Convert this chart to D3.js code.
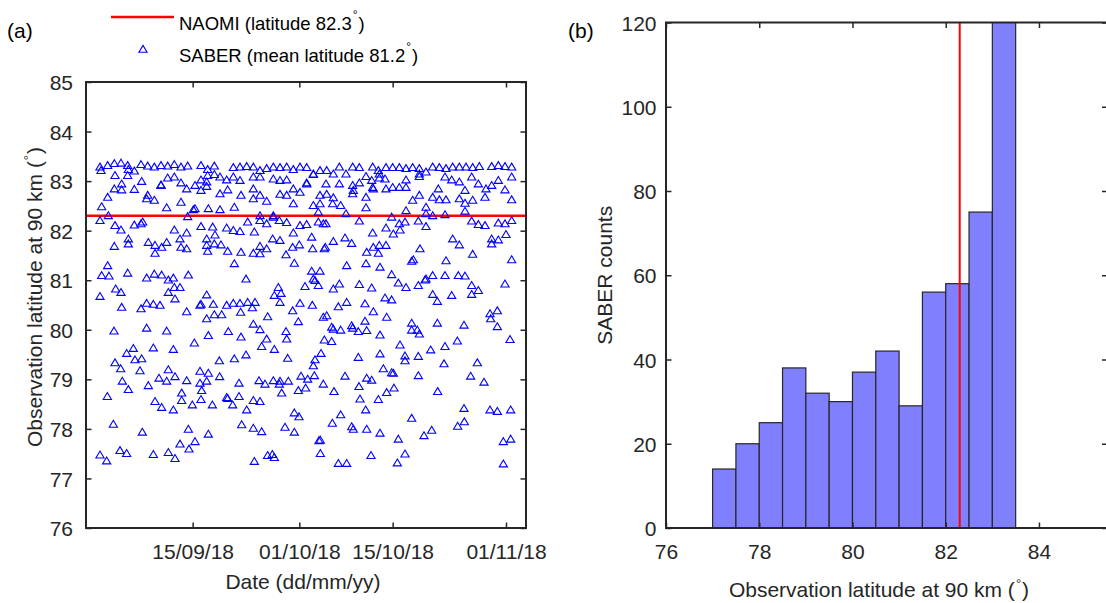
<!DOCTYPE html>
<html><head><meta charset="utf-8">
<script src="https://cdn.jsdelivr.net/npm/d3@7"></script>
<style>
body{margin:0;background:#fff}
text{font-family:"Liberation Sans",Arial,Helvetica,sans-serif}
</style>
</head><body>
<svg id="chart" width="1106" height="603"></svg>
<script>
// ---------------- DATA ----------------
const naomiLat = 82.3;
const legendLabels = ["NAOMI (latitude 82.3", "SABER (mean latitude 81.2"];
const dateStart = "2018-08-30";
const dateEnd = "2018-11-04";
const dateTicks = ["2018-09-15", "2018-10-01", "2018-10-15", "2018-11-01"];
const dateTickLabels = ["15/09/18", "01/10/18", "15/10/18", "01/11/18"];
const latTicksA = [76, 77, 78, 79, 80, 81, 82, 83, 84, 85];
const latTicksB = [76, 78, 80, 82, 84];
const countTicks = [0, 20, 40, 60, 80, 100, 120];
const histEdges = [77, 77.5, 78, 78.5, 79, 79.5, 80, 80.5, 81, 81.5, 82, 82.5, 83, 83.5];
const histCounts = [14, 20, 25, 38, 32, 30, 37, 42, 29, 56, 58, 75, 142];
// SABER observations: [days after 30 Aug 2018, latitude at 90 km]
const saberObs = [
[2.1,83.29],[2.25,83.22],[3.25,83.32],[4.25,83.36],[5.25,83.37],[6.25,83.32],[6.35,83.24],[7.25,83.21],[8.25,83.34],[9.25,83.31],
[10.25,83.29],[11.25,83.32],[12.25,83.31],[13.25,83.34],[14.25,83.29],[15.25,83.31],[17.25,83.32],[18.25,83.24],[19.25,83.31],[22.1,83.28],
[23.1,83.29],[24.1,83.30],[25.1,83.29],[26.1,83.22],[27.1,83.26],[28.1,83.29],[29.1,83.28],[30.1,83.29],[31.1,83.24],[32.1,83.29],
[33.1,83.28],[34.1,83.15],[35.1,83.22],
[4.35,83.12],[5.35,82.95],[6.25,83.12],[8.35,83.00],[11.25,82.93],[12.25,83.07],[13.25,83.09],[14.25,82.97],[16.35,82.92],[17.25,83.03],
[18.1,82.99],[18.25,83.12],[19.25,83.14],[20.1,83.09],[21.1,83.03],[22.1,83.09],[23.1,83.02],[25.1,83.09],[26.1,83.09],[28.1,83.05],
[29.1,83.02],[30.1,83.03],[33.1,82.97],[34.1,83.14],
[4.25,82.85],[5.35,82.83],[7.25,82.84],[9.25,82.72],[10.25,82.62],[9.1,82.65],[11.25,82.92],[14.25,82.58],[15.1,82.85],[17.25,82.82],
[18.1,82.90],[20.1,82.75],[21.25,82.83],[22.25,82.48],[23.25,82.72],[25.1,82.85],[25.1,82.65],[26.1,82.72],[27.1,82.60],[29.1,82.74],
[30.1,82.72],[31.1,82.85],[32.1,82.78],[31.1,82.55],[33.1,82.95],[35.1,82.72],[3.25,82.68],
[2.35,82.49],[3.35,82.31],[12.1,82.47],[16.1,82.43],[16.35,82.45],[18.35,82.45],[20.1,82.43],[15.25,82.29],[26.1,82.31],[28.1,82.31],
[34.1,82.515],[35.1,82.55],[34.85,82.38],
[2.1,82.21],[4.35,82.11],[5.25,82.02],[7.25,82.12],[8.25,82.145],[8.5,82.18],[13.25,82.02],[15.1,81.96],[17.25,82.09],[19.0,82.08],
[19.35,81.92],[21.1,82.06],[22.1,82.01],[23.1,81.99],[24.25,82.18],[25.25,81.98],[26.1,82.21],[27.1,82.145],[28.1,82.28],[29.0,82.21],
[30.1,82.17],[31.1,81.96],[32.1,82.11],[33.1,82.13],[33.85,81.875],[34.85,82.18],[35.6,82.145],
[4.25,81.69],[6.35,81.74],[6.35,81.84],[9.35,81.77],[10.35,81.71],[10.35,81.55],[11.35,81.67],[12.1,81.77],[14.1,81.84],[14.25,81.67],
[15.1,81.64],[18.1,81.84],[18.1,81.71],[18.25,81.59],[19.25,81.74],[20.25,81.72],[21.25,81.59],[23.25,81.57],[25.1,81.55],[26.1,81.69],
[26.1,81.54],[27.1,81.64],[28.0,81.84],[29.1,81.81],[30.0,81.52],[31.0,81.67],[32.0,81.72],[34.0,81.64],[35.75,81.64],
[3.25,81.30],[2.35,81.10],[3.45,81.09],[6.25,81.15],[9.1,81.05],[10.25,81.13],[11.35,81.11],[12.35,81.01],[13.1,81.05],[15.35,81.11],
[22.25,81.34],[24.0,81.03],[31.25,81.35],[33.85,81.19],[35.1,81.19],[34.1,81.03],[34.35,81.00],[28.85,80.86],
[2.1,80.68],[4.45,80.83],[5.25,80.76],[12.35,80.76],[13.25,80.86],[14.1,80.86],[13.35,80.63],[18.1,80.71],[28.25,80.70],[29.25,80.74],
[32.85,80.88],[34.85,80.90],
[5.35,80.46],[8.25,80.43],[9.1,80.54],[10.1,80.52],[11.1,80.50],[15.1,80.37],[17.1,80.50],[17.25,80.52],[18.1,80.23],[19.1,80.52],
[19.25,80.31],[20.35,80.31],[21.1,80.50],[22.1,80.54],[23.1,80.54],[23.2,80.36],[24.25,80.56],[24.95,80.45],[25.35,80.56],[27.25,80.27],
[29.1,80.56],[31.0,80.39],[32.1,80.54],[31.85,80.17],[33.95,80.50],[35.6,80.26],
[4.2,79.98],[9.1,80.04],[12.1,79.98],[16.25,79.74],[18.35,79.89],[21.35,79.97],[23.25,79.86],[25.1,80.12],[26.1,80.01],[27.1,79.82],
[26.35,79.67],[30.0,79.97],[30.1,79.82],[35.75,79.80],
[6.1,79.53],[7.1,79.63],[7.35,79.40],[8.35,79.42],[10.1,79.64],[13.1,79.61],[4.35,79.34],[5.2,79.22],[8.1,79.18],[20.0,79.38],
[22.25,79.42],[24.0,79.50],[28.25,79.61],[30.25,79.43],[34.35,79.40],[35.25,79.53],[34.1,79.28],
[5.45,78.97],[6.35,78.80],[9.35,78.88],[10.95,79.03],[12.1,78.97],[12.35,79.20],[13.35,79.06],[15.1,78.98],[17.1,79.17],[17.1,78.93],
[18.35,79.13],[18.1,78.97],[17.35,78.78],[14.35,78.73],[20.05,79.06],[22.95,78.93],[25.95,78.98],[26.85,78.91],[28.1,78.98],[29.1,78.97],
[29.0,78.91],[29.35,78.73],[30.35,78.97],[32.25,79.07],[33.25,79.01],[34.25,79.08],[31.85,78.78],[32.95,78.83],[35.6,78.91],
[3.2,78.66],[10.35,78.56],[11.35,78.44],[13.1,78.39],[14.35,78.58],[15.95,78.49],[17.25,78.60],[18.95,78.49],[21.1,78.64],[21.25,78.62],
[22.0,78.49],[22.95,78.66],[24.1,78.39],[25.1,78.58],[26.1,78.56],[31.25,78.33],[31.95,78.25],
[4.1,78.10],[8.45,77.94],[15.35,78.00],[18.35,77.90],[23.35,78.09],[25.1,78.02],[26.35,77.95],[29.85,78.04],[31.25,77.94],[34.95,77.77],
[35.15,77.78],
[2.1,77.48],[3.1,77.36],[5.1,77.57],[6.1,77.51],[10.1,77.49],[12.35,77.53],[13.35,77.41],[14.1,77.70],[15.45,77.60],[16.35,77.75],
[25.25,77.35],[27.25,77.47],[27.95,77.49],[28.25,77.43],[35.15,77.51],
[36.1,83.22],[37.1,83.15],[38.0,83.29],[39.0,83.15],[40.0,83.29],[41.0,83.28],[42.0,83.10],[43.0,83.29],[43.85,83.22],[44.0,83.15],
[45.0,83.28],[46.0,83.28],[47.0,83.28],[48.0,83.26],[49.0,83.28],[50.0,83.26],[50.0,83.15],[51.0,83.19],[52.0,83.29],[53.0,83.28],
[54.0,83.26],[55.0,83.29],[56.0,83.29],[57.0,83.29],[58.0,83.28],[59.0,83.30],[60.85,83.30],[61.85,83.32],[62.85,83.30],[63.85,83.29],
[63.85,83.09],
[36.0,82.95],[38.0,82.95],[40.0,82.92],[40.1,82.82],[41.0,82.97],[42.0,82.68],[42.85,83.02],[43.0,82.88],[43.1,82.85],[44.0,83.07],
[44.85,83.05],[45.0,82.85],[46.0,82.88],[47.0,82.88],[48.0,82.88],[48.0,83.03],[50.0,83.10],[52.0,82.68],[52.85,82.85],[54.0,82.63],
[53.0,82.63],[53.85,83.09],[54.85,83.03],[56.0,82.99],[56.0,82.65],[56.85,82.82],[56.85,82.56],[57.85,83.09],[58.0,82.62],[58.85,82.95],
[59.85,82.68],[60.0,82.85],[60.85,82.92],[61.85,83.02],[62.85,82.83],[63.85,82.63],[36.1,82.74],[37.1,82.67],[37.0,82.55],[38.2,82.515],
[40.0,82.75],[42.0,82.47],[49.0,82.62],[50.0,82.72],[51.0,82.48],
[39.0,82.35],[41.0,82.20],[45.85,82.28],[48.0,82.41],[47.0,82.145],[51.0,82.35],[52.0,82.31],[53.85,82.33],[56.85,82.40],[47.85,82.18],
[49.85,82.20],[51.0,82.09],[57.85,82.20],[58.85,82.13],[59.85,82.11],[61.85,82.16],[62.85,82.145],[63.85,82.21],[45.0,82.06],[46.1,81.94],
[47.1,82.02],[36.0,82.145],[35.9,81.67],
[37.1,81.79],[38.85,81.86],[39.85,81.75],[43.0,81.96],[43.1,81.67],[44.0,81.71],[45.0,81.71],[42.1,81.57],[43.85,81.55],[50.1,81.64],
[55.0,81.84],[56.0,81.72],[60.85,81.84],[60.85,81.74],[61.85,81.82],[63.0,81.93],[58.0,81.53],[54.0,81.40],[48.85,81.39],[49.1,81.42],
[63.85,81.42],[39.1,81.30],[42.0,81.34],[44.1,81.27],[45.85,81.12],[46.85,80.95],[48.0,80.86],[49.85,80.90],[50.85,81.01],[51.0,81.03],
[52.0,81.10],[53.85,81.10],[55.85,81.10],[56.85,81.09],[57.85,80.90],[58.85,80.80],[62.85,80.93],[37.1,80.83],[38.0,80.93],[41.0,80.92],
[42.85,80.85],[44.85,80.65],[45.85,80.61],[52.0,80.72],[54.85,80.70],[57.85,80.72],
[36.1,80.29],[37.85,80.47],[39.1,80.56],[41.85,80.53],[43.1,80.37],[45.1,80.26],[52.7,80.58],[60.6,80.33],[60.7,80.23],[61.7,80.39],
[61.7,80.07],[36.85,80.06],[37.1,80.02],[38.2,80.00],[39.85,80.09],[40.0,80.04],[40.85,79.97],[42.1,79.99],[41.85,80.18],[44.1,79.90],
[48.85,80.14],[48.85,80.00],[49.7,80.00],[50.0,79.92],[52.7,80.14],[56.7,80.10],[47.1,79.70],[36.85,79.77],[55.7,79.78],[63.6,79.81],
[53.85,79.67],[51.7,79.60],[40.85,79.45],[44.1,79.52],[47.85,79.48],[47.85,79.38],[49.85,79.47],[53.7,79.32],[58.7,79.34],[44.6,79.22],
[45.85,79.14],[46.1,79.13],[49.85,79.08],[57.7,79.07],[59.7,78.95],[38.85,79.07],[37.2,78.76],[42.1,79.03],[42.85,78.99],[40.95,78.86],
[46.2,78.83],[45.1,78.74],[52.75,78.76],[41.1,78.61],[43.85,78.60],[41.95,78.39],[38.2,78.29],[36.95,78.12],[39.85,78.05],[40.1,78.00],
[42.1,78.00],[44.1,77.92],[48.85,78.22],[50.7,77.87],[51.85,77.98],[55.75,78.06],[56.75,78.15],[56.7,78.42],[60.6,78.39],[61.7,78.36],
[63.7,78.39],[46.85,77.80],[62.6,77.75],[63.7,77.80],[47.85,77.50],[46.7,77.32],[42.75,77.47],[37.85,77.31],[39.1,77.31],[62.6,77.30]
];

// ---------------- DRAWING ----------------
const svg = d3.select("#chart");
const AX = "#262626";
const FS = 21;
const parseDay = d3.utcParse("%Y-%m-%d");
const t0 = parseDay(dateStart);
const DAY = 86400000;

const xA = d3.scaleUtc().domain([t0, parseDay(dateEnd)]).range([86, 526]);
const yA = d3.scaleLinear().domain([76, 85]).range([528, 82]);
const xB = d3.scaleLinear().domain([76, 85.47]).range([666, 1107.5]);
const yB = d3.scaleLinear().domain([0, 120]).range([528, 22.5]);

function styleAxis(g, withLabels) {
  g.select(".domain").remove();
  g.selectAll(".tick line").attr("stroke", AX).attr("stroke-width", 1.5);
  g.selectAll(".tick text").attr("fill", AX).style("font-size", FS + "px")
    .style("font-family", '"Liberation Sans",Arial,sans-serif');
  if (!withLabels) g.selectAll(".tick text").remove();
}

function frame(x, y, xt, yt, xFmt, yFmt, yPad) {
  const [x0, x1] = x.range(), [y0, y1] = y.range();
  svg.append("g").attr("transform", `translate(0,${y0})`)
    .call(d3.axisBottom(x).tickValues(xt).tickFormat(xFmt).tickSizeInner(-5.5).tickSizeOuter(0).tickPadding(16.5))
    .call(g => styleAxis(g, true));
  svg.append("g").attr("transform", `translate(0,${y1})`)
    .call(d3.axisTop(x).tickValues(xt).tickSizeInner(-5.5).tickSizeOuter(0))
    .call(g => styleAxis(g, false));
  svg.append("g").attr("transform", `translate(${x0},0)`)
    .call(d3.axisLeft(y).tickValues(yt).tickFormat(yFmt).tickSizeInner(-5.5).tickSizeOuter(0).tickPadding(yPad))
    .call(g => styleAxis(g, true))
    .call(g => g.selectAll(".tick text").attr("dy", "0.36em"));
  svg.append("g").attr("transform", `translate(${x1},0)`)
    .call(d3.axisRight(y).tickValues(yt).tickSizeInner(-5.5).tickSizeOuter(0))
    .call(g => styleAxis(g, false));
  svg.append("rect").attr("x", x0).attr("y", y1).attr("width", x1 - x0).attr("height", y0 - y1)
    .attr("fill", "none").attr("stroke", AX).attr("stroke-width", 2);
}

// ---- Panel (a) ----
svg.append("line")
  .attr("x1", xA.range()[0]).attr("x2", xA.range()[1])
  .attr("y1", yA(naomiLat)).attr("y2", yA(naomiLat))
  .attr("stroke", "#ff0000").attr("stroke-width", 2.5);

const tri = "M0,-3.6L4.1,3.3L-4.1,3.3Z";
svg.append("g").selectAll("path").data(saberObs).join("path")
  .attr("d", tri)
  .attr("transform", d => `translate(${xA(new Date(+t0 + d[0] * DAY))},${yA(d[1])})`)
  .attr("fill", "none").attr("stroke", "#0000ff").attr("stroke-width", 1.1);

const dateTickVals = dateTicks.map(parseDay);
frame(xA, yA, dateTickVals, latTicksA, (d, i) => dateTickLabels[i], d3.format("d"), 13);

// ---- Panel (b) ----
svg.append("clipPath").attr("id", "clipB").append("rect")
  .attr("x", 666).attr("y", yB(120)).attr("width", 441.5).attr("height", yB(0) - yB(120));
const bars = svg.append("g").attr("clip-path", "url(#clipB)");
bars.selectAll("rect").data(histCounts).join("rect")
  .attr("x", (d, i) => xB(histEdges[i]))
  .attr("width", (d, i) => xB(histEdges[i + 1]) - xB(histEdges[i]))
  .attr("y", d => yB(d))
  .attr("height", d => yB(0) - yB(d))
  .attr("fill", "#8080ff").attr("stroke", AX).attr("stroke-width", 1.2);
bars.append("line")
  .attr("x1", xB(naomiLat)).attr("x2", xB(naomiLat))
  .attr("y1", yB(0)).attr("y2", yB(120))
  .attr("stroke", "#ff0000").attr("stroke-width", 2);

frame(xB, yB, latTicksB, countTicks, d3.format("d"), d3.format("d"), 9.5);

// ---- Labels ----
function labelWithDegree(sel, main, fs) {
  sel.append("tspan").text(main + " (");
  sel.append("tspan").text("°").style("font-size", (fs * 0.62) + "px").attr("dy", -fs * 0.45).attr("dx", 1);
  sel.append("tspan").text(")").attr("dy", fs * 0.45).attr("dx", 1);
}
const yLabA = svg.append("text").attr("transform", "translate(42,297) rotate(-90)")
  .attr("text-anchor", "middle").attr("fill", AX).style("font-size", FS + "px");
labelWithDegree(yLabA, "Observation latitude at 90 km", FS);

svg.append("text").attr("x", 303).attr("y", 589)
  .attr("text-anchor", "middle").attr("fill", AX).style("font-size", FS + "px")
  .text("Date (dd/mm/yy)");

const xLabB = svg.append("text").attr("x", 879).attr("y", 597)
  .attr("text-anchor", "middle").attr("fill", AX).style("font-size", FS + "px");
labelWithDegree(xLabB, "Observation latitude at 90 km", FS);

svg.append("text").attr("transform", `translate(612,${(yB(0) + yB(120)) / 2}) rotate(-90)`)
  .attr("text-anchor", "middle").attr("fill", AX).style("font-size", FS + "px")
  .text("SABER counts");

svg.append("text").attr("x", 7).attr("y", 38).style("font-size", FS + "px").attr("fill", "#000").text("(a)");
svg.append("text").attr("x", 568).attr("y", 38).style("font-size", FS + "px").attr("fill", "#000").text("(b)");

// ---- Legend ----
const LF = 18.5;
const leg = svg.append("g");
leg.append("line").attr("x1", 111).attr("x2", 174).attr("y1", 17).attr("y2", 17)
  .attr("stroke", "#ff0000").attr("stroke-width", 2.5);
leg.append("path").attr("d", tri).attr("transform", "translate(143,49)")
  .attr("fill", "none").attr("stroke", "#0000ff").attr("stroke-width", 1.1);
legendLabels.forEach((lab, i) => {
  const t = leg.append("text").attr("x", 179).attr("y", i === 0 ? 29.5 : 62)
    .attr("fill", "#000").style("font-size", LF + "px");
  t.append("tspan").text(lab);
  t.append("tspan").text("°").style("font-size", "12px").attr("dy", -11).attr("dx", 1);
  t.append("tspan").text(")").attr("dy", 11).attr("dx", 1);
});
</script>
</body></html>
